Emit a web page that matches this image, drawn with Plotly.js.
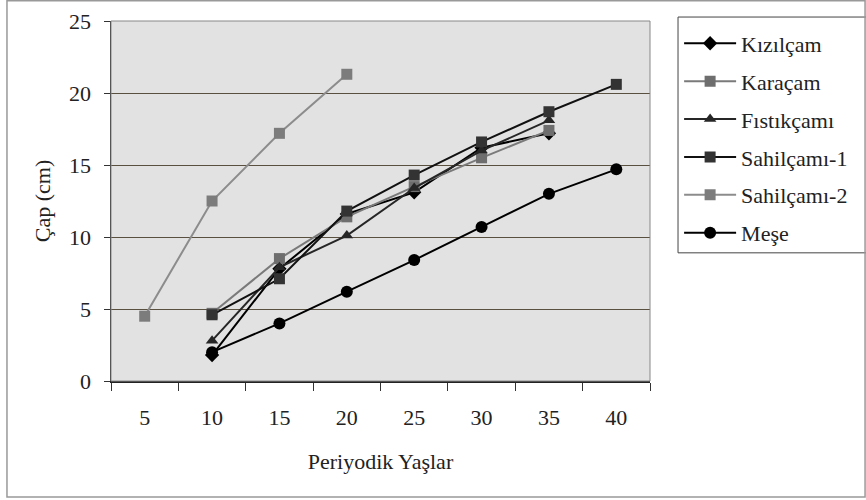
<!DOCTYPE html>
<html><head><meta charset="utf-8">
<script src="https://cdn.plot.ly/plotly-3.0.1.min.js"></script>
<style>body{margin:0;background:#fff}#chart{width:866px;height:500px}</style>
</head><body><div id="chart"></div>
<script>
const categories = ['5','10','15','20','25','30','35','40'];
const kizilcam   = [null, 1.8, 7.8, 11.6, 13.1, 16.2, 17.2, null];
const karacam    = [null, 4.7, 8.5, 11.4, 13.5, 15.5, 17.4, null];
const fistikcami = [null, 2.8, 7.9, 10.1, 13.4, 16.0, 18.1, null];
const sahilcami1 = [null, 4.6, 7.1, 11.8, 14.3, 16.6, 18.7, 20.6];
const sahilcami2 = [4.5, 12.5, 17.2, 21.3, null, null, null, null];
const mese       = [null, 2.0, 4.0, 6.2, 8.4, 10.7, 13.0, 14.7];

const seriesNames = ['Kızılçam','Karaçam','Fıstıkçamı','Sahilçamı-1','Sahilçamı-2','Meşe'];
const seriesData = [kizilcam, karacam, fistikcami, sahilcami1, sahilcami2, mese];
const styles = [
  {lc:'#000000', mc:'#000000', sym:'diamond', ms:11},
  {lc:'#7a7a7a', mc:'#6e6e6e', sym:'square', ms:11},
  {lc:'#262626', mc:'#262626', sym:'triangle-up', ms:11},
  {lc:'#111111', mc:'#333333', sym:'square', ms:11},
  {lc:'#8c8c8c', mc:'#7c7c7c', sym:'square', ms:11},
  {lc:'#000000', mc:'#000000', sym:'circle', ms:12}
];

const traces = seriesNames.map((n,i)=>({
  type:'scatter', mode:'lines+markers', name:n, legendgroup:'g'+i,
  x: categories, y: seriesData[i], connectgaps:false,
  line:{color:styles[i].lc, width:2},
  marker:{symbol:styles[i].sym, size:styles[i].ms, color:styles[i].mc}
}));

const font = {family:'Liberation Serif', size:22, color:'#222222'};
const layout = {
  width:866, height:500,
  margin:{l:111, r:216, t:21, b:119},
  paper_bgcolor:'#ffffff', plot_bgcolor:'#e2e2e2',
  font: font,
  showlegend:true,
  legend:{x:1.054, xanchor:'left', y:0.996, yanchor:'top',
    bgcolor:'rgba(0,0,0,0)', borderwidth:0,
    font:font, tracegroupgap:6.3, itemwidth:52},
  xaxis:{type:'category', range:[-0.5,7.5], tickson:'boundaries',
    ticks:'outside', ticklen:8, tickcolor:'#333', ticklabelstandoff:16,
    showline:true, linecolor:'#222', linewidth:1.5, mirror:false,
    showgrid:false, zeroline:false, fixedrange:true,
    title:{text:'Periyodik Yaşlar', font:font, standoff:24}},
  yaxis:{range:[0,25], dtick:5, ticks:'outside', ticklen:6, tickcolor:'#333', ticklabelstandoff:8,
    showline:true, linecolor:'#222', linewidth:1.5,
    showgrid:true, gridcolor:'#5a5040', gridwidth:1, zeroline:false,
    title:{text:'Çap (cm)', font:font, standoff:12}},
  shapes:[
    {type:'rect', xref:'paper', yref:'paper', x0:0, x1:1, y0:0, y1:1,
     line:{color:'#888', width:1}, layer:'above'},
    {type:'rect', xref:'paper', yref:'paper', x0:1.052, x1:1.45, y0:0.356, y1:1.011,
     line:{color:'#444', width:1}, fillcolor:'#ffffff', layer:'below'},
    {type:'rect', xref:'paper', yref:'paper', x0:-0.193, x1:1.399, y0:-0.322, y1:1.056,
     line:{color:'#999', width:1.5}}
  ]
};
Plotly.newPlot('chart', traces, layout, {displayModeBar:false, staticPlot:true});
</script></body></html>
